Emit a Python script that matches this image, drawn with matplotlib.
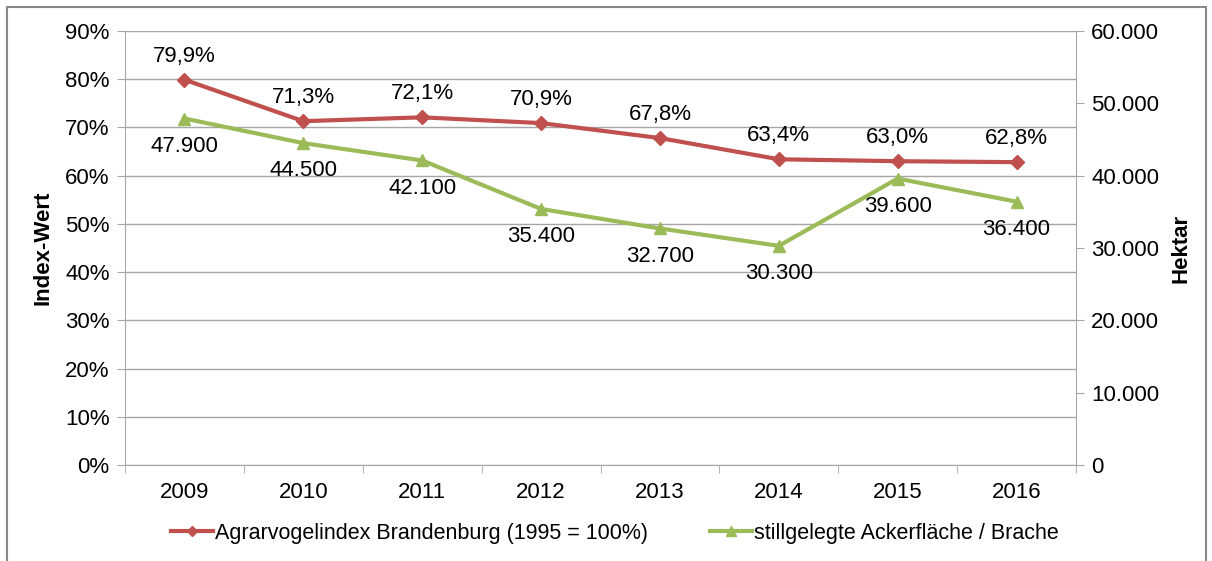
import matplotlib
matplotlib.use('Agg')
import matplotlib.pyplot as plt
from matplotlib.patches import Rectangle
import numpy as np

plt.rcParams['font.family'] = ['Liberation Sans', 'DejaVu Sans']

years = ['2009', '2010', '2011', '2012', '2013', '2014', '2015', '2016']
index_values = [79.9, 71.3, 72.1, 70.9, 67.8, 63.4, 63.0, 62.8]
hectare_values = [47900, 44500, 42100, 35400, 32700, 30300, 39600, 36400]

red = '#C0504D'
green = '#9BBB59'
grid_col = '#A6A6A6'
fs = 16

fig = plt.figure(figsize=(12.12, 5.61), dpi=100)
# outer chart border
fig.patches.append(Rectangle((7 / 1212, -0.02), 1199 / 1212, 1 - 7 / 561 + 0.02,
                             transform=fig.transFigure, fill=False,
                             edgecolor='#888888', linewidth=1.5))

ax = fig.add_axes([125 / 1212, 1 - 465 / 561, 951 / 1212, 434 / 561])
ax2 = ax.twinx()

x = np.arange(len(years))

ax.plot(x, index_values, color=red, linewidth=3, marker='D', markersize=7,
        label='Agrarvogelindex Brandenburg (1995 = 100%)', zorder=3)
l2, = ax2.plot(x, hectare_values, color=green, linewidth=3, marker='^', markersize=9,
               label='stillgelegte Ackerfläche / Brache', zorder=3)

for xi, v in zip(x, index_values):
    ax.annotate(f'{v:.1f}%'.replace('.', ','), (xi, v), xytext=(0, 17),
                textcoords='offset points', ha='center', va='center', fontsize=fs)
for xi, v in zip(x, hectare_values):
    ax2.annotate(f'{v:,}'.replace(',', '.'), (xi, v), xytext=(0, -20),
                 textcoords='offset points', ha='center', va='center', fontsize=fs)

ax.set_xlim(-0.5, 7.5)
ax.set_ylim(0, 90)
ax2.set_ylim(0, 60000)
ax.set_yticks(np.arange(0, 91, 10))
ax.set_yticklabels([f'{v}%' for v in range(0, 91, 10)])
ax2.set_yticks(np.arange(0, 60001, 10000))
ax2.set_yticklabels(['0'] + [f'{v}.000' for v in range(10, 61, 10)])

ax.set_xticks(x)
ax.set_xticklabels(years)
ax.set_xticks(np.arange(-0.5, 8, 1), minor=True)
ax.tick_params(axis='x', which='major', length=0, pad=12, labelsize=fs)
ax.tick_params(axis='x', which='minor', length=6, color=grid_col)
ax.tick_params(axis='y', length=6, color=grid_col, labelsize=fs, pad=5)
ax2.tick_params(axis='y', length=6, color=grid_col, labelsize=fs, pad=5)

ax.grid(axis='y', color=grid_col, linewidth=1)
ax.set_axisbelow(True)
for a in (ax, ax2):
    for s in a.spines.values():
        s.set_visible(False)
ax.spines['left'].set_visible(True)
ax.spines['left'].set_color(grid_col)
ax.spines['bottom'].set_visible(True)
ax.spines['bottom'].set_color(grid_col)
ax2.spines['right'].set_visible(True)
ax2.spines['right'].set_color(grid_col)

ax.set_ylabel('Index-Wert', fontsize=fs, fontweight='bold', labelpad=8)
ax2.set_ylabel('Hektar', fontsize=fs, fontweight='bold', labelpad=8)

h1, lab1 = ax.get_legend_handles_labels()
fig.legend(h1 + [l2], lab1 + [l2.get_label()], loc='center', ncol=2,
           bbox_to_anchor=(615 / 1212, 1 - 533 / 561), frameon=False,
           fontsize=15.5, handlelength=1.95, handletextpad=0.1, columnspacing=2.9,
           markerscale=0.8)

fig.savefig('out.png', dpi=100)
